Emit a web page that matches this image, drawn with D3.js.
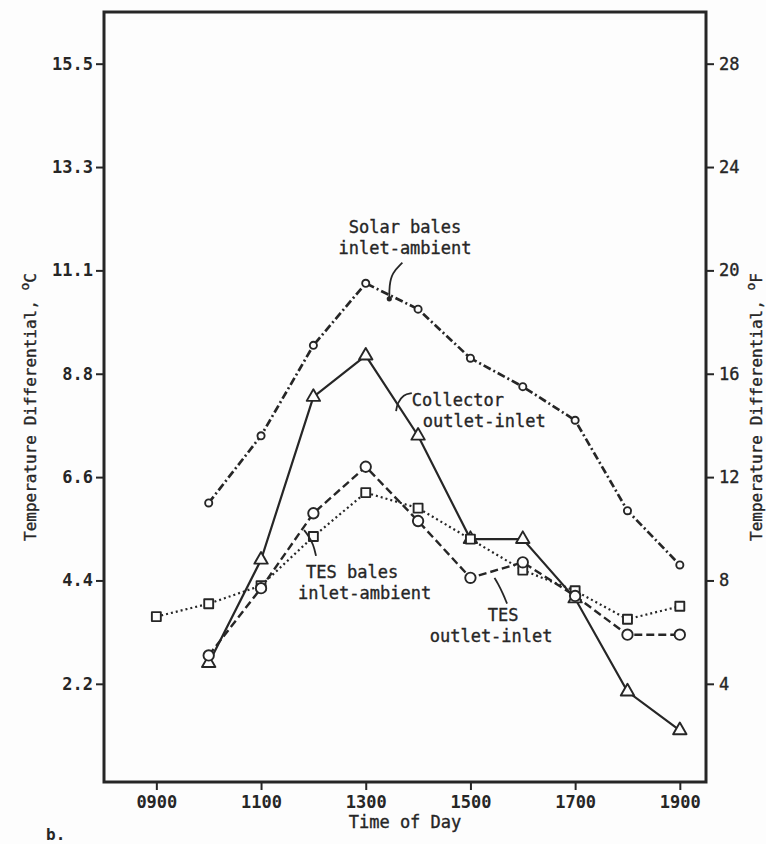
<!DOCTYPE html>
<html>
<head>
<meta charset="utf-8">
<script src="https://cdn.jsdelivr.net/npm/d3@7"></script>
<style>
  html, body { margin: 0; padding: 0; background: #fdfdfd; }
  svg { display: block; }
  text { font-family: "DejaVu Sans Mono", "Liberation Mono", monospace; fill: #262626; }
  .ink-text { stroke: #262626; stroke-width: 0.35; }
</style>
</head>
<body>
<svg id="chart" width="766" height="844"></svg>
<script>
// Time of day (hours) and temperature differentials (°F)
const hours = [9, 10, 11, 12, 13, 14, 15, 16, 17, 18, 19];
const solarBalesInletAmbient = [null, 11.0, 13.6, 17.1, 19.5, 18.5, 16.6, 15.5, 14.2, 10.7, 8.6];
const collectorOutletInlet   = [null, 4.8, 8.8, 15.1, 16.7, 13.6, 9.6, 9.6, 7.3, 3.7, 2.2];
const tesBalesInletAmbient   = [6.6, 7.1, 7.8, 9.7, 11.4, 10.8, 9.6, 8.4, 7.6, 6.5, 7.0];
const tesOutletInlet         = [null, 5.1, 7.7, 10.6, 12.4, 10.3, 8.1, 8.7, 7.4, 5.9, 5.9];

// Axis ticks
const xTicks = [9, 11, 13, 15, 17, 19];
const xTickLabels = ["0900", "1100", "1300", "1500", "1700", "1900"];
const fTicks = [4, 8, 12, 16, 20, 24, 28];
const cTickLabels = ["2.2", "4.4", "6.6", "8.8", "11.1", "13.3", "15.5"];

const svg = d3.select("#chart");
const ink = "#262626";

const x = d3.scaleLinear().domain([8, 19.5]).range([104, 706]);
const y = d3.scaleLinear().domain([0.2, 30]).range([782, 12]);

const [x0, x1] = x.range();
const [y0, y1] = y.range();

// Axes: bottom (time), left (°C labels), right (°F)
const bottomAxis = d3.axisBottom(x).tickValues(xTicks)
  .tickFormat((d, i) => xTickLabels[i]).tickSize(8).tickPadding(6);
const leftAxis = d3.axisLeft(y).tickValues(fTicks)
  .tickFormat((d, i) => cTickLabels[i]).tickSize(8).tickPadding(3);
const rightAxis = d3.axisRight(y).tickValues(fTicks)
  .tickFormat(d => d).tickSize(8).tickPadding(5);

function styleAxis(g, weight) {
  g.select(".domain").remove();
  g.selectAll(".tick line").attr("stroke", ink).attr("stroke-width", 2);
  g.selectAll(".tick text").attr("font-size", 17).attr("font-weight", weight)
    .attr("fill", ink).style("font-family", '"DejaVu Sans Mono", monospace');
}

svg.append("g").attr("transform", `translate(0,${y0})`).call(bottomAxis).call(g => styleAxis(g, "bold"));
svg.append("g").attr("transform", `translate(${x0},0)`).call(leftAxis).call(g => styleAxis(g, "bold"));
svg.append("g").attr("transform", `translate(${x1},0)`).call(rightAxis)
  .call(g => styleAxis(g, "normal"))
  .call(g => g.selectAll(".tick text").classed("ink-text", true));

// Plot frame
svg.append("rect")
  .attr("x", x0).attr("y", y1)
  .attr("width", x1 - x0).attr("height", y0 - y1)
  .attr("fill", "none").attr("stroke", ink).attr("stroke-width", 3);

// Axis titles
svg.append("text").attr("class", "ink-text")
  .attr("x", (x0 + x1) / 2).attr("y", 828)
  .attr("text-anchor", "middle").attr("font-size", 17)
  .text("Time of Day");

function yTitle(cx, unit) {
  const t = svg.append("text").attr("class", "ink-text")
    .attr("transform", `translate(${cx},${(y0 + y1) / 2 + 10}) rotate(-90)`)
    .attr("text-anchor", "middle").attr("font-size", 16);
  t.append("tspan").text("Temperature Differential, ");
  t.append("tspan").attr("dy", -7).attr("font-size", 13).text("o");
  t.append("tspan").attr("dy", 7).text(unit);
}
yTitle(36, "C");
yTitle(762, "F");

svg.append("text").attr("x", 46).attr("y", 840)
  .attr("font-size", 16).attr("font-weight", "bold").text("b.");

// Series lines and markers
const series = [
  { values: solarBalesInletAmbient, dash: "8,3,2,3", width: 2.7, marker: "circleSmall" },
  { values: collectorOutletInlet,   dash: null,      width: 2.2, marker: "triangle" },
  { values: tesBalesInletAmbient,   dash: "2,3",     width: 2.2, marker: "square" },
  { values: tesOutletInlet,         dash: "8,4",     width: 2.4, marker: "circle" }
];

const line = d3.line()
  .defined(d => d.v != null)
  .x(d => x(d.h)).y(d => y(d.v));

const symbols = {
  circleSmall: d3.symbol(d3.symbolCircle, 40),
  circle: d3.symbol(d3.symbolCircle, 85),
  triangle: d3.symbol(d3.symbolTriangle, 78),
  square: d3.symbol(d3.symbolSquare, 80)
};

series.forEach(s => {
  const pts = hours.map((h, i) => ({ h, v: s.values[i] }));
  svg.append("path")
    .attr("d", line(pts))
    .attr("fill", "none").attr("stroke", ink)
    .attr("stroke-width", s.width)
    .attr("stroke-dasharray", s.dash);
});

series.forEach(s => {
  const pts = hours.map((h, i) => ({ h, v: s.values[i] })).filter(d => d.v != null);
  svg.append("g").selectAll("path").data(pts).join("path")
    .attr("d", symbols[s.marker]())
    .attr("transform", d => `translate(${x(d.h)},${y(d.v)})`)
    .attr("fill", "#fdfdfd").attr("stroke", ink).attr("stroke-width", 1.9)
    .attr("stroke-linejoin", "round");
});

// Annotations with leader strokes
function label(lines, hx, fv, anchor) {
  const t = svg.append("text").attr("class", "ink-text")
    .attr("font-size", 17).attr("text-anchor", anchor || "start");
  lines.forEach((str, i) => {
    t.append("tspan").attr("x", x(hx) + (str.dx || 0)).attr("y", y(fv) + i * 21).text(str.t);
  });
}
function leader(pointsData, dotEnd) {
  const p = pointsData.map(([h, v]) => [x(h), y(v)]);
  svg.append("path")
    .attr("d", d3.line().curve(d3.curveBasis)(p))
    .attr("fill", "none").attr("stroke", ink).attr("stroke-width", 1.8);
  if (dotEnd) {
    const e = p[p.length - 1];
    svg.append("circle").attr("cx", e[0]).attr("cy", e[1]).attr("r", 2.6).attr("fill", ink);
  }
}

label([{ t: "Solar bales" }, { t: "inlet-ambient" }], 13.75, 21.45, "middle");
leader([[13.7, 20.3], [13.5, 19.9], [13.45, 19.4], [13.45, 18.9]], true);

label([{ t: "Collector" }, { t: "outlet-inlet", dx: 11 }], 13.88, 14.75);
leader([[13.88, 15.25], [13.72, 15.2], [13.6, 14.85], [13.58, 14.55]], false);

label([{ t: "TES bales" }, { t: "inlet-ambient", dx: -8 }], 11.86, 8.1);
leader([[12.05, 8.95], [12.0, 9.4], [11.9, 9.75], [11.82, 9.95]], false);

label([{ t: "TES" }, { t: "outlet-inlet", dx: -58 }], 15.33, 6.45);
leader([[15.7, 7.1], [15.62, 7.5], [15.52, 7.9], [15.46, 8.1]], false);
</script>
</body>
</html>
